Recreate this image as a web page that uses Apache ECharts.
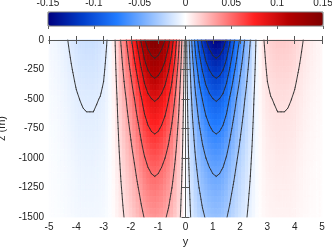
<!DOCTYPE html>
<html><head><meta charset="utf-8">
<script src="https://cdn.jsdelivr.net/npm/echarts@6/dist/echarts.min.js"></script>
<style>html,body{margin:0;padding:0;background:#fff}#c{width:332px;height:248px}</style>
</head><body><div id="c"></div>
<script>
// ---- data ----
// across-section coordinate y: -5 .. 5, step 0.125 (81 nodes)
const yStart = -5, yStep = 0.125;
// value at the surface (z = 0) at each y node
const surfaceProfile = [
  -0.003,-0.004,-0.005,-0.006,-0.0075,-0.009,-0.011,-0.013,
  -0.015,-0.0165,-0.0175,-0.018,-0.018,-0.018,-0.017,-0.016,
  -0.014,-0.010,-0.004,0.006,0.017,0.030,0.042,0.054,
  0.067,0.081,0.096,0.112,0.128,0.140,0.147,0.150,
  0.147,0.140,0.130,0.116,0.099,0.079,0.055,0.028,
  0,
  -0.028,-0.055,-0.079,-0.099,-0.116,-0.130,-0.140,-0.147,
  -0.150,-0.147,-0.140,-0.128,-0.112,-0.096,-0.081,-0.067,
  -0.054,-0.042,-0.030,-0.017,-0.006,0.004,0.010,0.014,
  0.016,0.017,0.018,0.018,0.018,0.0175,0.0165,0.015,
  0.013,0.011,0.009,0.0075,0.006,0.005,0.004,0.003
];
// depth z: 0 .. -1500, step 50 (31 nodes); relative strength with depth
const zStart = 0, zStep = -50;
const depthFactor = [1.0,0.955,0.91,0.87,0.83,0.79,0.75,0.715,0.68,0.645,0.61,0.585,0.56,0.535,0.51,
  0.487,0.465,0.445,0.425,0.405,0.385,0.367,0.35,0.335,0.32,0.305,0.29,0.277,0.265,0.252,0.24];
const contourLevels = [-0.13,-0.11,-0.09,-0.07,-0.05,-0.03,-0.01,0.01,0.03,0.05,0.07,0.09,0.11,0.13];
const palette = ['#00007f','#003dca','#217bff','#90bdff','#ffffff','#ff9090','#ff2121','#b40000','#7f0000'];

// ---- table built from the arrays ----
const NY = surfaceProfile.length, NZ = depthFactor.length;
const yAt = i => yStart + i * yStep;
const zAt = j => zStart + j * zStep;
const field = [];
for (let j = 0; j < NZ; j++) {
  const row = [];
  for (let i = 0; i < NY; i++) row.push(surfaceProfile[i] * depthFactor[j]);
  field.push(row);
}
const cells = [];
for (let j = 0; j < NZ; j++) for (let i = 0; i < NY; i++) cells.push([yAt(i), zAt(j), field[j][i]]);

// contour segments (marching squares on the table)
const segs = [];
function ip(a, b, c) { const t = (c - a[2]) / (b[2] - a[2]); return [a[0] + t * (b[0] - a[0]), a[1] + t * (b[1] - a[1])]; }
contourLevels.forEach(c => {
  for (let j = 0; j < NZ - 1; j++) for (let i = 0; i < NY - 1; i++) {
    const k = [[yAt(i), zAt(j), field[j][i]], [yAt(i + 1), zAt(j), field[j][i + 1]],
               [yAt(i + 1), zAt(j + 1), field[j + 1][i + 1]], [yAt(i), zAt(j + 1), field[j + 1][i]]];
    const e = [];
    for (let m = 0; m < 4; m++) {
      const a = k[m], b = k[(m + 1) % 4];
      e.push(((a[2] > c) !== (b[2] > c)) ? ip(a, b, c) : null);
    }
    const p = e.filter(x => x);
    if (p.length === 2) segs.push([p[0][0], p[0][1], p[1][0], p[1][1]]);
    else if (p.length === 4) {
      const ctr = (k[0][2] + k[1][2] + k[2][2] + k[3][2]) / 4;
      if ((ctr > c) === (k[0][2] > c)) { segs.push([...e[0], ...e[1]]); segs.push([...e[2], ...e[3]]); }
      else { segs.push([...e[3], ...e[0]]); segs.push([...e[1], ...e[2]]); }
    }
  }
});

const FONT = 'Liberation Sans, Arial, sans-serif';
const txt = '#222', axc = '#555';
const chart = echarts.init(document.getElementById('c'), null, {renderer: 'canvas'});
chart.setOption({
  animation: false,
  textStyle: {fontFamily: FONT},
  grid: [
    {left: 49, top: 40, width: 273, height: 177, show: false, containLabel: false, outerBoundsMode: 'none'},
    {left: 48, top: 12, width: 275, height: 14, show: true, z: 10, borderColor: '#777', borderWidth: 1,
     backgroundColor: 'transparent', containLabel: false, outerBoundsMode: 'none'}
  ],
  visualMap: {
    type: 'continuous', min: -0.15, max: 0.15, dimension: 2, seriesIndex: 0,
    orient: 'horizontal', left: 48, top: 12, itemWidth: 14, itemHeight: 275,
    calculable: false, padding: 0, hoverLink: false, text: null,
    inRange: {color: palette}
  },
  xAxis: [
    {type: 'value', gridIndex: 0, min: -5, max: 5, interval: 1, position: 'bottom', z: 10,
     name: 'y', nameLocation: 'middle', nameGap: 19, nameTextStyle: {color: txt, fontSize: 11, fontFamily: FONT},
     axisLine: {lineStyle: {color: axc}}, axisTick: {inside: true, length: 4, lineStyle: {color: axc}},
     axisLabel: {color: txt, fontSize: 10, margin: 5, fontFamily: FONT}, splitLine: {show: false}},
    {type: 'value', gridIndex: 0, min: -5, max: 5, interval: 1, position: 'top', z: 10,
     axisLine: {lineStyle: {color: axc}}, axisTick: {inside: true, length: 4, lineStyle: {color: axc}},
     axisLabel: {show: false}, splitLine: {show: false}},
    {type: 'value', gridIndex: 1, min: -0.15, max: 0.15, interval: 0.05, position: 'top', z: 10,
     axisLine: {show: false}, axisTick: {inside: true, length: 3, lineStyle: {color: '#666'}},
     axisLabel: {color: txt, fontSize: 10, margin: 4, fontFamily: FONT, showMinLabel: true, showMaxLabel: true,
       formatter: v => String(Math.round(v * 100) / 100)}, splitLine: {show: false}}
  ],
  yAxis: [
    {type: 'value', gridIndex: 0, min: -1500, max: 0, interval: 250, position: 'left', z: 10,
     name: 'z (m)', nameLocation: 'middle', nameRotate: 90, nameGap: 36, nameTextStyle: {color: txt, fontSize: 11, fontFamily: FONT},
     axisLine: {lineStyle: {color: axc}}, axisTick: {inside: true, length: 4, lineStyle: {color: axc}},
     axisLabel: {color: txt, fontSize: 10, margin: 5, fontFamily: FONT, formatter: v => String(v)}, splitLine: {show: false}},
    {type: 'value', gridIndex: 0, min: -1500, max: 0, interval: 250, position: 'right', z: 10,
     axisLine: {lineStyle: {color: axc}}, axisTick: {inside: true, length: 4, lineStyle: {color: axc}},
     axisLabel: {show: false}, splitLine: {show: false}},
    {type: 'value', gridIndex: 1, min: 0, max: 1, show: false}
  ],
  series: [
    {type: 'custom', xAxisIndex: 0, yAxisIndex: 0, data: cells, encode: {x: 0, y: 1}, silent: true,
     renderItem: (params, api) => {
       const y = api.value(0), z = api.value(1);
       const a = api.coord([Math.max(-5, y - yStep / 2), Math.min(0, z - zStep / 2)]);
       const b = api.coord([Math.min(5, y + yStep / 2), Math.max(-1500, z + zStep / 2)]);
       const col = api.visual('color');
       return {type: 'rect', shape: {x: a[0], y: a[1], width: b[0] - a[0], height: b[1] - a[1]},
               style: {fill: col, stroke: col, lineWidth: 0.8}};
     }},
    {type: 'custom', xAxisIndex: 0, yAxisIndex: 0, data: segs, encode: {x: [0, 2], y: [1, 3]}, silent: true, z: 5,
     renderItem: (params, api) => {
       const p = api.coord([api.value(0), api.value(1)]);
       const q = api.coord([api.value(2), api.value(3)]);
       return {type: 'line', shape: {x1: p[0], y1: p[1], x2: q[0], y2: q[1]},
               style: {stroke: '#2a2a2a', lineWidth: 0.9, lineCap: 'round'}};
     }}
  ]
});
</script></body></html>
